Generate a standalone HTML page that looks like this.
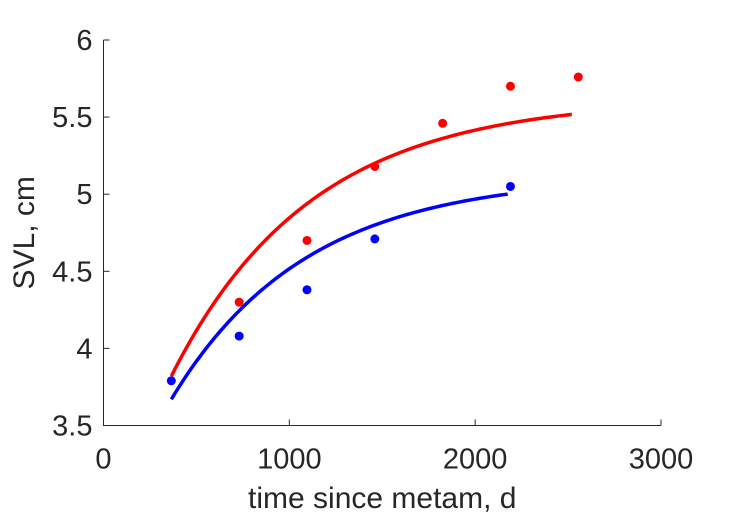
<!DOCTYPE html>
<html><head><meta charset="utf-8"><style>
body{margin:0;background:#fff;}
svg text{font-family:"Liberation Sans",sans-serif;fill:#262626;}
</style></head><body>
<svg id="chart" width="729" height="521" xmlns="http://www.w3.org/2000/svg"></svg>
<script>
const xTicks=[0,1000,2000,3000];
const yTicks=[3.5,4,4.5,5,5.5,6];
const yTickLabels=["3.5","4","4.5","5","5.5","6"];
const redX=[730,1095,1460,1825,2190,2555];
const redY=[4.30,4.70,5.18,5.46,5.70,5.76];
const blueX=[365,730,1095,1460,2190];
const blueY=[3.79,4.08,4.38,4.71,5.05];
// von Bertalanffy fit parameters: [t0, L0, Linf, k, tEnd]
const redFit=[365,3.82,5.62,0.00133,2520];
const blueFit=[365,3.67,5.12,0.00138,2175];

const svg=document.getElementById('chart');
const NS='http://www.w3.org/2000/svg';
const X0=103.5,X1=661,Y0=425.5,Y1=40;
const sx=v=>X0+(v-0)/3000*(X1-X0);
const sy=v=>Y0-(v-3.5)/2.5*(Y0-Y1);
function mk(t,a){const e=document.createElementNS(NS,t);for(const k in a)e.setAttribute(k,a[k]);svg.appendChild(e);return e;}

let ax=mk('path',{d:`M${X0},${Y1}V${Y0}H${X1}`,fill:'none',stroke:'#262626','stroke-width':1});


xTicks.forEach(v=>{
  let t=mk('line',{x1:sx(v),x2:sx(v),y1:Y0,y2:Y0-6,stroke:'#262626'});
  
  
  let l=mk('text',{x:sx(v),y:Y0+43,'text-anchor':'middle','font-size':29});
  l.textContent=v;
  
  
});
yTicks.forEach((v,i)=>{
  let t=mk('line',{x1:X0,x2:X0+6,y1:sy(v),y2:sy(v),stroke:'#262626'});
  
  
  let l=mk('text',{x:X0-11,y:sy(v)+10,'text-anchor':'end','font-size':29});
  l.textContent=yTickLabels[i];
  
  
});
let xt=mk('text',{x:(X0+X1)/2,y:508,'text-anchor':'middle','font-size':30});
xt.textContent='time since metam, d';


let yt=mk('text',{x:0,y:0,'text-anchor':'middle','font-size':30,transform:`translate(34,${(Y0+Y1)/2}) rotate(-90)`});
yt.textContent='SVL, cm';



function curve(p,color,name){
  const [t0,L0,Li,k,tE]=p;let d='';
  for(let i=0;i<=100;i++){const t=t0+(tE-t0)*i/100;const L=Li-(Li-L0)*Math.exp(-k*(t-t0));d+=(i?'L':'M')+sx(t).toFixed(2)+','+sy(L).toFixed(2);}
  let e=mk('path',{d,fill:'none',stroke:color,'stroke-width':3.5});
  
  
}
curve(redFit,'#ff0000','red-fit-line');
curve(blueFit,'#0000ff','blue-fit-line');
function pts(xs,ys,color,name){
  xs.forEach((x,i)=>{let c=mk('circle',{cx:sx(x),cy:sy(ys[i]),r:4.5,fill:color});
  
  });
}
pts(redX,redY,'#ff0000','red-point');
pts(blueX,blueY,'#0000ff','blue-point');
</script>
</body></html>
